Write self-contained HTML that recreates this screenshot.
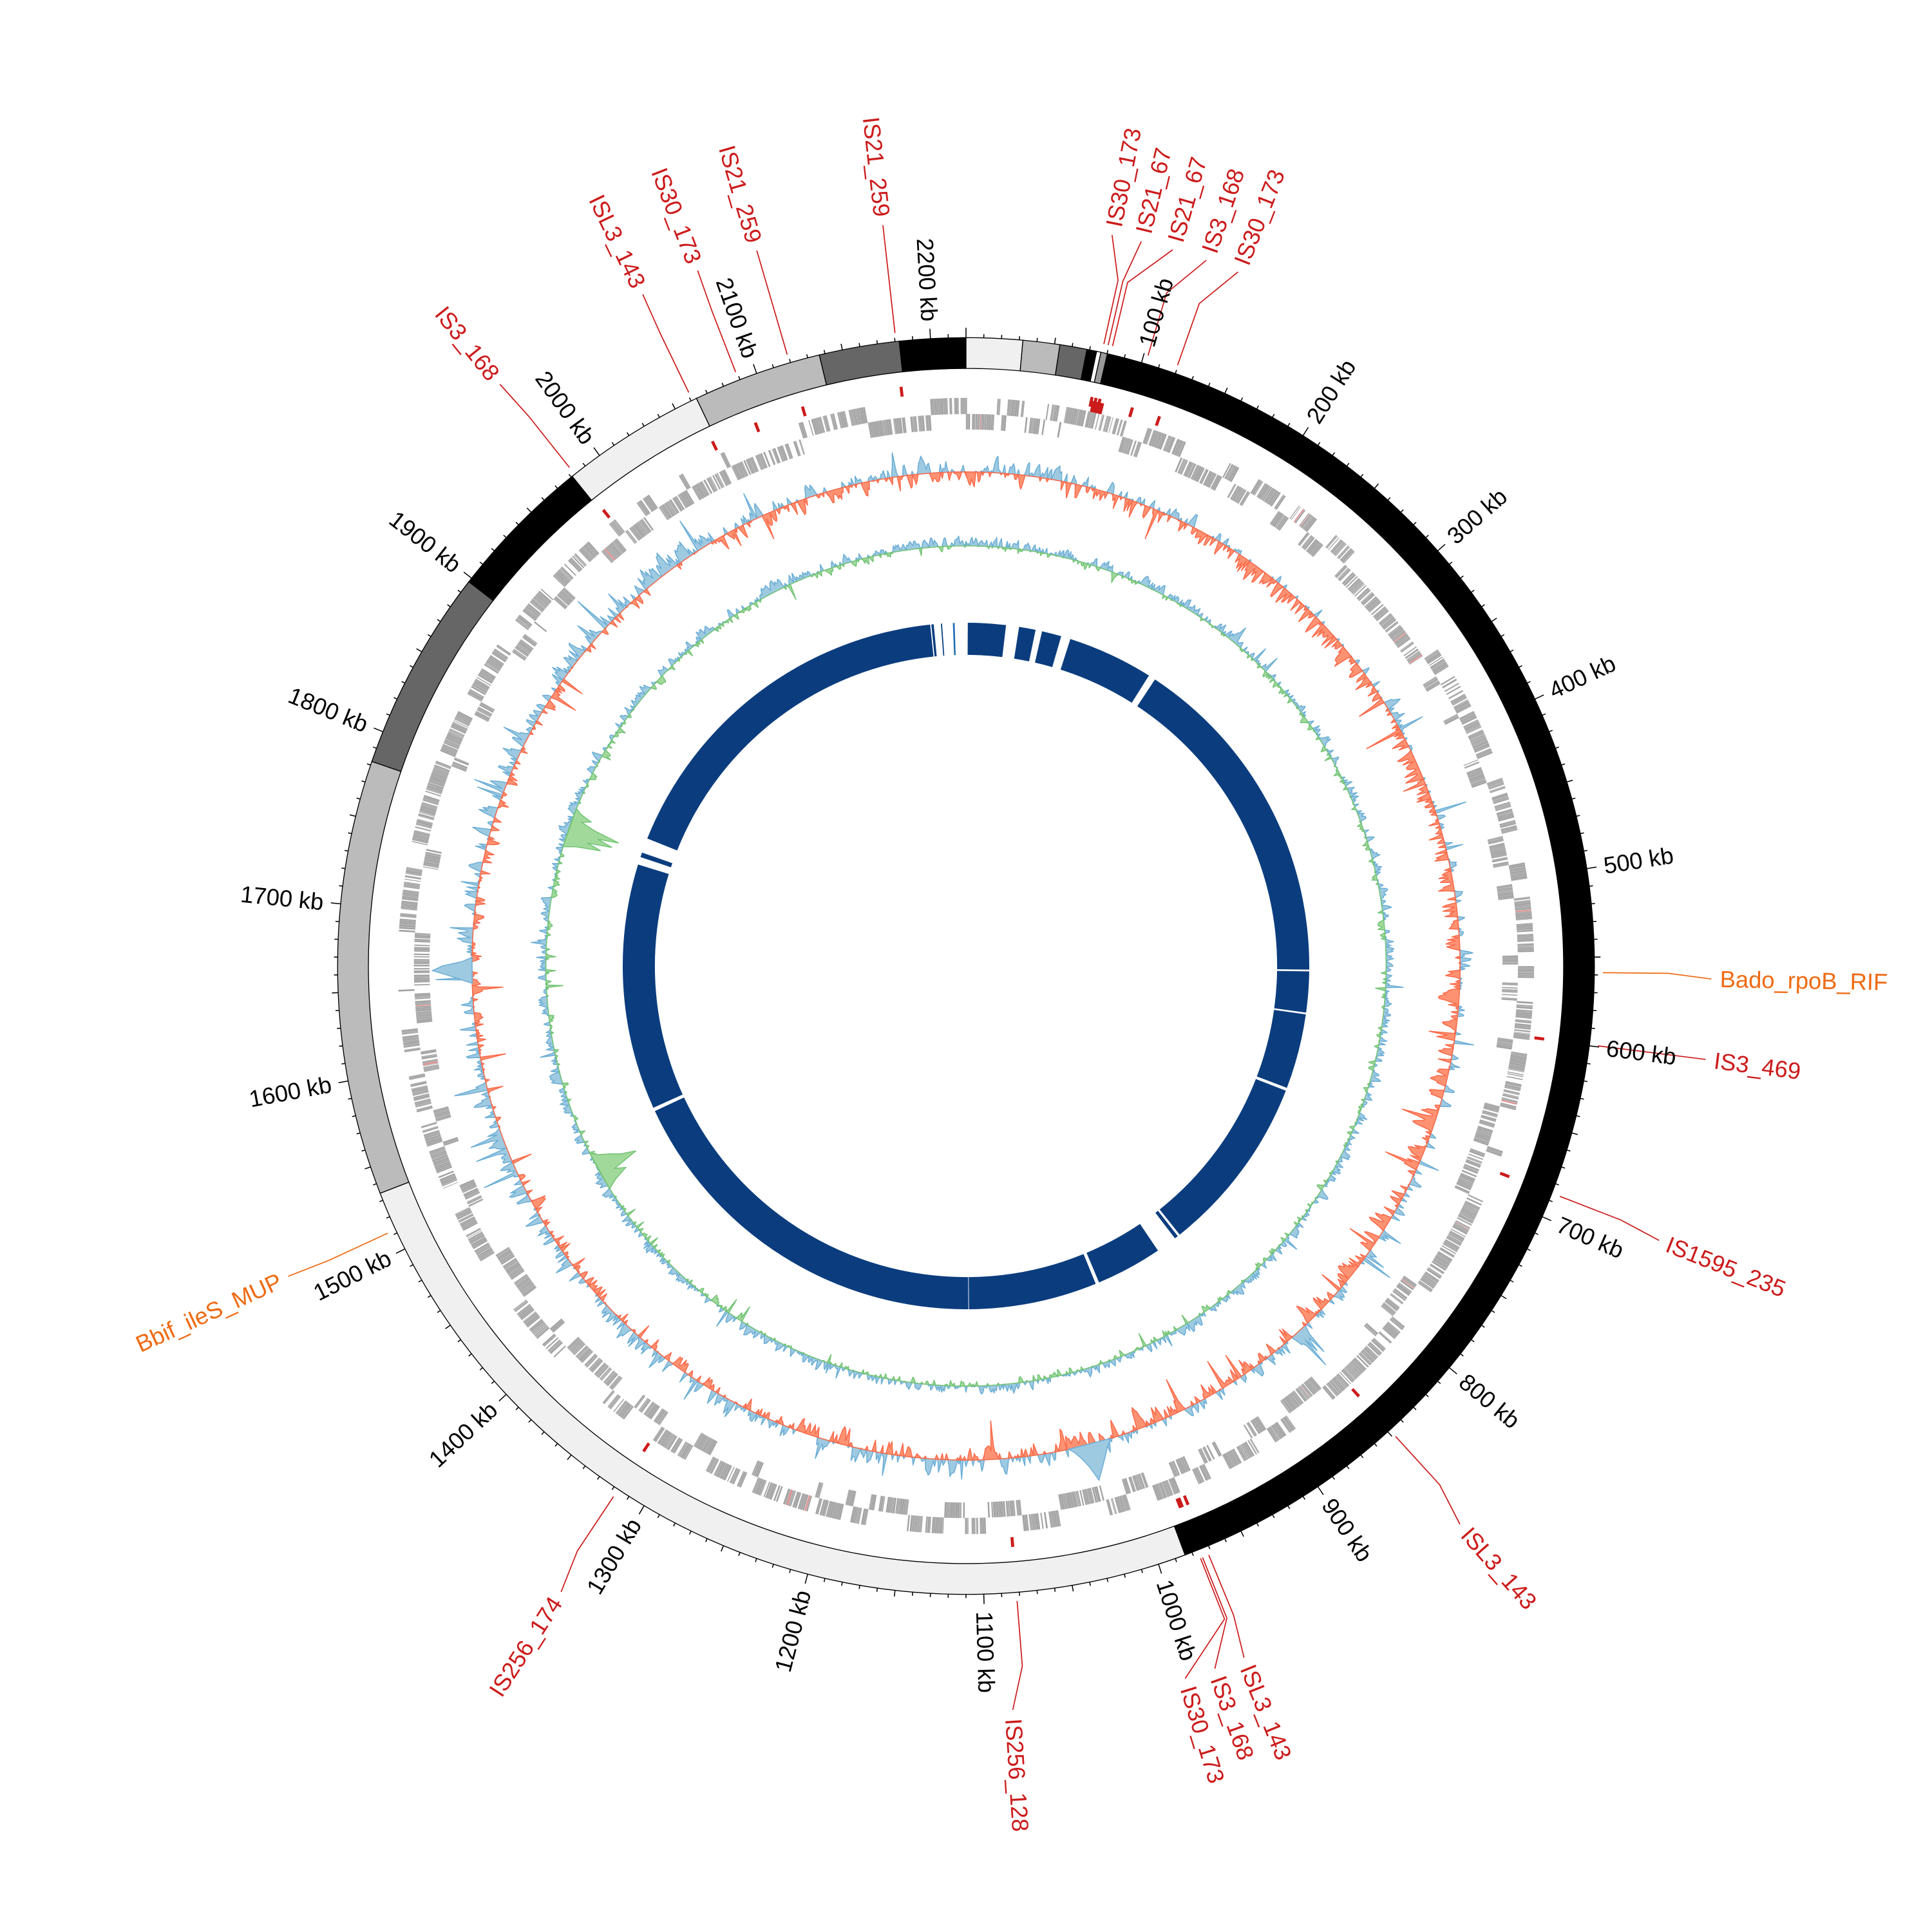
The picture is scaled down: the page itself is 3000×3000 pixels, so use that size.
<!DOCTYPE html>
<html><head><meta charset="utf-8"><style>
html,body{margin:0;padding:0;background:#fff;}
svg{display:block;}
text{font-family:"Liberation Sans Narrow","Liberation Sans",sans-serif;font-size:19px;}
</style></head><body>
<svg id="s" width="3000" height="3000" viewBox="0 0 1568 1568" xmlns="http://www.w3.org/2000/svg">
<g id="tracks"></g>
<g id="labels"></g>
</svg>
<script>
var C=784,T=2220,NS="http://www.w3.org/2000/svg";
var tracks=document.getElementById('tracks'),labels=document.getElementById('labels');
function P(r,a){var t=a*Math.PI/180;return [C+r*Math.sin(t),C-r*Math.cos(t)];}
function wedge(r1,r2,a1,a2){var l=(a2-a1)>180?1:0;var p1=P(r2,a1),p2=P(r2,a2),p3=P(r1,a2),p4=P(r1,a1);
return "M"+p1[0].toFixed(2)+","+p1[1].toFixed(2)+"A"+r2+","+r2+" 0 "+l+" 1 "+p2[0].toFixed(2)+","+p2[1].toFixed(2)+"L"+p3[0].toFixed(2)+","+p3[1].toFixed(2)+"A"+r1+","+r1+" 0 "+l+" 0 "+p4[0].toFixed(2)+","+p4[1].toFixed(2)+"Z";}
function el(parent,tag,attrs){var e=document.createElementNS(NS,tag);for(var k in attrs)e.setAttribute(k,attrs[k]);parent.appendChild(e);return e;}
var seed=12345;function rnd(){seed|=0;seed=seed+0x6D2B79F5|0;var t=Math.imul(seed^seed>>>15,1|seed);t=t+Math.imul(t^t>>>7,61|t)^t;return((t^t>>>14)>>>0)/4294967296;}

var segs=[[13,159.6,'#000'],[159.6,248.8,'#f0f0f0'],[248.8,289,'#bbbbbb'],[289,307.7,'#666'],[307.7,321.2,'#000'],[321.2,334.6,'#f0f0f0'],[334.6,346.5,'#bbbbbb'],[346.5,353.9,'#666'],[353.9,360,'#000'],[0,5.2,'#f0f0f0'],[5.2,8.6,'#bbbbbb'],[8.6,11.1,'#666'],[11.1,12,'#000'],[12,12.4,'#fff'],[12.4,13,'#999']];
segs.forEach(function(s){el(tracks,'path',{d:wedge(485,510,s[0],s[1]),fill:s[2],stroke:'#000','stroke-width':0.7});});
var d="";for(var k=0;k<T;k+=10){var a=k*360/T;var len=(k%100==0)?8:(k%50==0?5:3);var p=P(510,a),q=P(510+len,a);d+="M"+p[0].toFixed(2)+","+p[1].toFixed(2)+"L"+q[0].toFixed(2)+","+q[1].toFixed(2);}
el(tracks,'path',{d:d,stroke:'#000','stroke-width':0.8,fill:'none'});
for(var k=100;k<=2200;k+=100){var a=k*360/T;var p=P(524,a);var t;
 if(a<180){t=el(labels,'text',{x:p[0],y:p[1],transform:"rotate("+(a-90)+" "+p[0]+" "+p[1]+")","text-anchor":"start","dominant-baseline":"central"});}
 else{t=el(labels,'text',{x:p[0],y:p[1],transform:"rotate("+(a+90)+" "+p[0]+" "+p[1]+")","text-anchor":"end","dominant-baseline":"central"});}
 t.textContent=k+" kb";}

// gene track: thin stripes grouped in runs per strand
var gd="",gr="";var pos=0;
while(pos<360){var strand=rnd()<0.5;var run=0.3+rnd()*2.2;var end=pos+run;
 while(pos<end&&pos<360){var l2=0.03+rnd()*0.14;if(rnd()<0.85){var w=strand?wedge(448,461,pos,pos+l2):wedge(435.5,448,pos,pos+l2);
  if(rnd()<0.01)gr+=w;else gd+=w;}pos+=l2+0.035;}
 pos+=rnd()<0.4?rnd()*0.4:0.02;}
el(tracks,'path',{d:gd,fill:'#a3a3a3',stroke:'#979797','stroke-width':0.15});
el(tracks,'path',{d:gr,fill:'#e08a8a'});

function trace(base,amp,N,biasFn,posFill,posLine,negFill,negLine,spk,sm){
 var vals=[],v=0;
 for(var i=0;i<N;i++){var a=i*360/N;v=v*sm+(rnd()-0.5)*amp+biasFn(a)*(1-sm);var x=v;if(rnd()<spk)x+=(rnd()-0.5)*amp*3;vals.push(x);}
 var pa=[],na=[];
 for(var i=0;i<=N;i++){var a=i*360/N;var x=vals[i%N];pa.push(P(base+Math.max(x,0),a));na.push(P(base+Math.min(x,0),a));}
 function poly(arr){var s="M"+P(base,0).join(",");arr.forEach(function(p){s+="L"+p[0].toFixed(2)+","+p[1].toFixed(2);});
   for(var i=N;i>=0;i--){var q=P(base,i*360/N);s+="L"+q[0].toFixed(2)+","+q[1].toFixed(2);}return s+"Z";}
 el(tracks,'path',{d:poly(pa),fill:posFill,stroke:posLine,'stroke-width':0.8,'stroke-linejoin':'round'});
 el(tracks,'path',{d:poly(na),fill:negFill,stroke:negLine,'stroke-width':0.8,'stroke-linejoin':'round'});
}
trace(401,17,2200,function(a){return (a>10&&a<170)?-2.5:(a>200&&a<330?2.5:0);},'#9ecae1','#6baed6','#fc9272','#fb6a4a',0.04,0.55);
trace(341,9,2200,function(a){return 1.5;},'#9ecae1','#6baed6','#a1d99b','#74c476',0.03,0.5);
function spike(base,a0,a1,pts,fill,line){var s="M"+P(base,a0);for(var i=0;i<pts.length;i++){var a=a0+(a1-a0)*(i+1)/(pts.length+1);s+="L"+P(base+pts[i],a);}s+="L"+P(base,a1)+"Z";el(tracks,'path',{d:s,fill:fill,stroke:line,'stroke-width':0.8});}
spike(341,286.5,292,[-10,-30,-18,-38,-25,-42,-20,-8,-15,-5],'#a1d99b','#74c476');
spike(341,238,243.5,[-8,-20,-12,-34,-22,-15,-6],'#a1d99b','#74c476');
spike(401,268,271,[10,20,32,24,8],'#9ecae1','#6baed6');
spike(401,163,168,[6,14,22,30,18,10,4],'#9ecae1','#6baed6');

var bs=[[0.3,6.7],[8.9,11.7],[12.8,16.1],[17.7,32.2],[33.4,90.6],[90.9,97.8],[98.1,110.8],[111.3,141.5],[141.9,142.5],[146,157.2],[157.8,179.5],[179.6,245],[245.6,287.2],[291.8,354],[354.2,354.6],[355.8,356]];
bs.forEach(function(b){el(tracks,'path',{d:wedge(252.5,278.6,b[0],b[1]),fill:'#0b3d7e'});});
el(tracks,'path',{d:wedge(252.5,278.6,288.5,289.3),fill:'#0b3d7e'});
el(tracks,'path',{d:wedge(252.5,278.6,357.8,358.1),fill:'#1f6fb4'});

var IS=[["IS30_173","#cc1b1b",12.5,11.3],["IS21_67","#cc1b1b",12.9,13.6],["IS21_67","#cc1b1b",13.3,16.1],["IS3_168","#cc1b1b",16.6,18.8],["IS30_173","#cc1b1b",19.4,21.4],
["Bado_rpoB_RIF","#ee6a12",90.6,91.0],["IS3_469","#cc1b1b",97.2,97.2],["IS1595_235","#cc1b1b",111.2,111.6],["ISL3_143","#cc1b1b",137.6,138.5],
["ISL3_143","#cc1b1b",157.6,158.1],["IS3_168","#cc1b1b",158.2,160.5],["IS30_173","#cc1b1b",158.4,162.9],["IS256_128","#cc1b1b",175.4,176.4],
["IS256_174","#cc1b1b",213.6,212.9],["Bbif_ileS_MUP","#ee6a12",245.2,245.4],["IS3_168","#cc1b1b",321.5,321.3],["ISL3_143","#cc1b1b",334.2,334.3],
["IS30_173","#cc1b1b",338.8,338.9],["IS21_259","#cc1b1b",343.7,343.7],["IS21_259","#cc1b1b",353.6,353.6]];
IS.forEach(function(s){var m=s[2],la=s[3],col=s[1];
 if(col=="#cc1b1b")el(tracks,'path',{d:wedge(465,473,m-0.15,m+0.15),fill:col});
 var p0=P(517,m),p1=P(570,m),p2=P(605,la);
 el(tracks,'path',{d:"M"+p0+"L"+p1+"L"+p2,stroke:col,'stroke-width':0.9,fill:'none'});
 var p=P(612,la),t;
 if(la<180)t=el(labels,'text',{x:p[0],y:p[1],fill:col,transform:"rotate("+(la-90)+" "+p[0]+" "+p[1]+")","text-anchor":"start","dominant-baseline":"central"});
 else t=el(labels,'text',{x:p[0],y:p[1],fill:col,transform:"rotate("+(la+90)+" "+p[0]+" "+p[1]+")","text-anchor":"end","dominant-baseline":"central"});
 t.textContent=s[0];});
el(tracks,'path',{d:wedge(461,470,12.6,13.8),fill:'#cc1b1b'});
</script>
</body></html>
